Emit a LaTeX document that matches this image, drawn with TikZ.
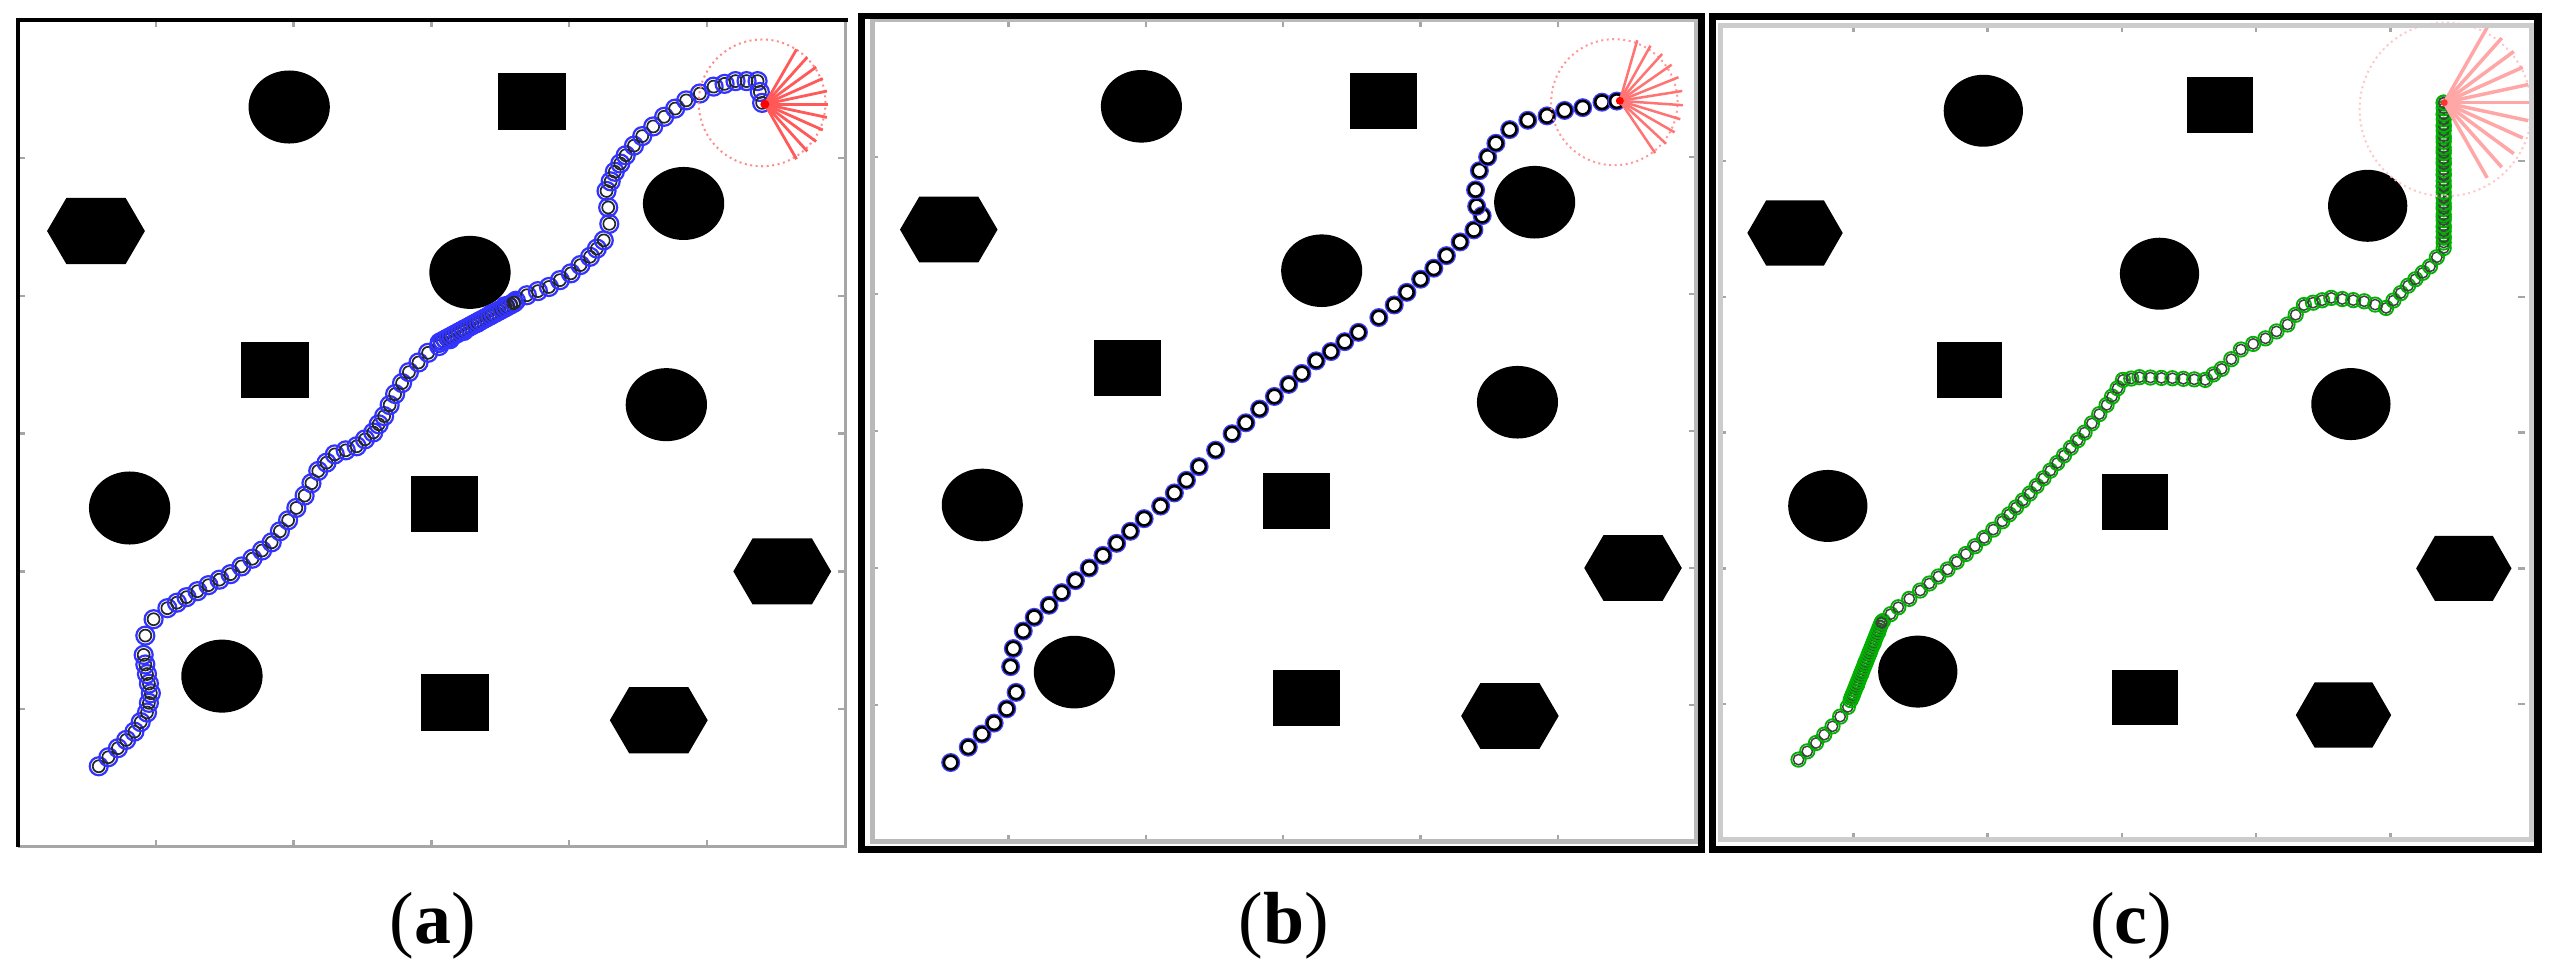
\documentclass[tikz,border=0pt]{standalone}
\usepackage{fontspec}
\newfontfamily\labfont{Liberation Serif}
\newcommand\mka{\draw[blue!80,line width=0.22mm] (0,0) circle (0.9mm);\draw[black!85,line width=0.17mm] (0,0) circle (0.6mm);}
\newcommand\mkb{\draw[blue!75,line width=0.18mm] (0,0) circle (0.86mm);\draw[black,line width=0.26mm] (0,0) circle (0.68mm);}
\newcommand\mkc{\draw[green!70!black,line width=0.18mm] (0,0) circle (0.72mm);\draw[black!75,line width=0.15mm] (0,0) circle (0.52mm);}
% #1 marker, #2 step (data units), #3 #4 start point, #5 list of x/y
\newcommand\markpath[5]{%
  \begin{scope}[shift={(#3,#4)}]#1\end{scope}%
  \foreach \qx/\qy [remember=\qx as \lx (initially #3), remember=\qy as \ly (initially #4)] in {#5}{%
    \pgfmathsetmacro\len{veclen(\qx-\lx,\qy-\ly)}%
    \pgfmathtruncatemacro\nn{max(1,round(\len/#2))}%
    \foreach \k in {1,...,\nn}{%
      \pgfmathsetmacro\mx{\lx+(\qx-\lx)*\k/\nn}%
      \pgfmathsetmacro\my{\ly+(\qy-\ly)*\k/\nn}%
      \begin{scope}[shift={(\mx,\my)}]#1\end{scope}}%
  }%
}
\newcommand\drawobstacles{%
  \foreach \px/\py in {1.968/5.37, 4.83/4.67, 3.28/4.17, 4.705/3.21, 0.81/2.46, 1.48/1.24}
    {\fill[obst] (\px,\py) ellipse [x radius=0.295, y radius=0.265];}
  \foreach \px/\py in {3.73/5.41, 1.865/3.46, 3.095/2.49, 3.17/1.05}
    {\fill[obst,shift={(\px,\py)}] (-0.245,-0.205) rectangle (0.245,0.205);}
  \foreach \px/\py in {0.566/4.47, 5.546/2.0, 4.65/0.92}
    {\fill[obst,shift={(\px,\py)}] (-0.355,0) -- (-0.215,0.24) -- (0.215,0.24) -- (0.355,0) -- (0.215,-0.24) -- (-0.215,-0.24) -- cycle;}
}
\newcommand\drawticks{%
  \foreach \i in {1,...,5}{
    \draw[tickmark] (\i,0) -- (\i,0.05); \draw[tickmark] (\i,6) -- (\i,5.95);
    \draw[tickmark] (0,\i) -- (0.05,\i); \draw[tickmark] (6,\i) -- (5.95,\i);}
}
\tikzset{
  obst/.style={fill=black},
  tickmark/.style={draw=gray!70,line width=0.25mm},
  lab/.style={font=\labfont\fontsize{21}{25}\selectfont, inner sep=0pt},
}
\begin{document}
\begin{tikzpicture}[x=0.1mm,y=-0.1mm]
\useasboundingbox (0,0) rectangle (2561,973);
\fill[white] (0,0) rectangle (2561,973);

% ---------------- panel (a)
\begin{scope}[shift={(18,847)},x=13.78mm,y=13.78mm]
  \drawobstacles
  \drawticks
  \markpath{\mka}{0.094}{0.586}{0.586}{0.725/0.717, 0.845/0.837, 0.936/0.976, 0.964/1.116, 0.936/1.255, 0.912/1.394, 0.924/1.534, 0.984/1.653, 1.084/1.733, 1.223/1.813, 1.382/1.900, 1.542/1.980, 1.701/2.092, 1.841/2.211, 1.960/2.371, 2.080/2.550, 2.179/2.729, 2.299/2.849, 2.458/2.908, 2.578/3.008, 2.657/3.127, 2.737/3.287, 2.837/3.446, 2.976/3.586, 3.135/3.685, 3.335/3.805, 3.534/3.924, 3.693/4.004, 3.853/4.064, 4.012/4.163, 4.151/4.283, 4.251/4.402, 4.291/4.522, 4.283/4.641, 4.271/4.761, 4.331/4.900, 4.410/5.020, 4.530/5.159, 4.689/5.299, 4.849/5.418, 5.048/5.518, 5.207/5.558, 5.367/5.558, 5.40/5.40}
  \markpath{\mka}{0.025}{3.06}{3.66}{3.60/3.95}
  \coordinate (ea) at (5.40,5.40);
  \coordinate (ra) at (5.42,5.39);
  \draw[red!45,densely dotted,line width=0.2mm] (ea) circle [radius=0.46];
  \foreach \a in {-60,-48,...,60} {\draw[red!65,line width=0.28mm] (ra) -- ++(\a:0.46);}
  \fill[red] (ra) circle (0.45mm);
\end{scope}
\draw[gray!70,line width=0.3mm] (845,21) -- (845,847) -- (18,847);
\draw[black,line width=0.4mm] (18,847) -- (18,20.5) -- (848,20.5);

% ---------------- panel (b)
\begin{scope}[shift={(871,842)},x=13.74mm,y=13.70mm]
  \drawobstacles
  \drawticks
  \markpath{\mkb}{0.135}{0.580}{0.580}{0.708/0.692, 0.808/0.788, 0.896/0.868, 0.988/0.972, 1.056/1.092, 1.016/1.280, 1.036/1.412, 1.108/1.540, 1.188/1.640, 1.296/1.728, 1.388/1.820, 1.488/1.908, 1.588/2.000, 1.688/2.092, 1.788/2.180, 1.888/2.268, 1.988/2.360, 2.108/2.452, 2.208/2.548, 2.296/2.640, 2.388/2.740, 2.508/2.860, 2.628/2.980, 2.728/3.060, 2.828/3.160, 2.936/3.252, 3.040/3.340, 3.136/3.420, 3.240/3.512, 3.348/3.580, 3.448/3.652, 3.548/3.720, 3.696/3.828, 3.808/3.920, 3.900/4.012, 4.000/4.108, 4.096/4.188, 4.188/4.280, 4.288/4.380, 4.388/4.468, 4.448/4.572, 4.408/4.640, 4.400/4.760, 4.428/4.900, 4.548/5.100, 4.648/5.200, 4.780/5.268, 4.920/5.300, 5.048/5.340, 5.180/5.360, 5.320/5.400, 5.428/5.408}
  \coordinate (rb) at (5.45,5.41);
  \draw[red!40,densely dotted,line width=0.2mm] (5.41,5.40) circle [radius=0.46];
  \foreach \a in {-56,-43,...,74} {\draw[red!55,line width=0.25mm] (rb) -- ++(\a:0.46);}
  \fill[red] (rb) circle (0.4mm);
\end{scope}
\draw[gray!55,line width=0.5mm] (872,20) rectangle (1696,842);
\draw[black,line width=0.65mm] (861.5,16) rectangle (1701.5,849.5);

% ---------------- panel (c)
\begin{scope}[shift={(1719,840)},x=13.43mm,y=13.58mm]
  \drawobstacles
  \drawticks
  \markpath{\mkc}{0.082}{0.592}{0.592}{0.722/0.714, 0.845/0.837, 0.959/0.980, 1.029/1.143, 1.090/1.306, 1.151/1.449, 1.220/1.612, 1.335/1.714, 1.498/1.837, 1.702/1.992, 1.906/2.163, 2.110/2.347, 2.314/2.551, 2.518/2.776, 2.722/3.000, 2.886/3.204, 3.008/3.388, 3.131/3.408, 3.376/3.400, 3.620/3.388, 3.743/3.469, 3.886/3.612, 4.069/3.694, 4.233/3.796, 4.355/3.939, 4.559/3.992, 4.804/3.967, 4.967/3.918, 5.131/4.082, 5.294/4.224, 5.396/4.359, 5.396/4.816, 5.396/5.429}
  \markpath{\mkc}{0.022}{0.98}{1.03}{1.21/1.60}
  \markpath{\mkc}{0.041}{5.396}{4.40}{5.396/5.43}
  \coordinate (rc) at (5.40,5.43);
  \draw[red!22,densely dotted,line width=0.2mm] (5.41,5.38) circle [radius=0.64];
  \foreach \a in {-60,-48,...,60} {\draw[red!35,line width=0.35mm] (rc) -- ++(\a:0.64);}
  \fill[red!80] (rc) circle (0.35mm);
\end{scope}
\draw[gray!40,line width=0.5mm] (1720,25.5) rectangle (2531.5,840);
\draw[black,line width=0.75mm] (1712.5,16.5) rectangle (2538,849.5);

% ---------------- labels
\node[lab] (la) at (433,926) {(\textbf{a})};
\node[lab] (lb) at (1284,926) {(\textbf{b})};
\node[lab] (lc) at (2131,926) {(\textbf{c})};
\end{tikzpicture}
\end{document}
